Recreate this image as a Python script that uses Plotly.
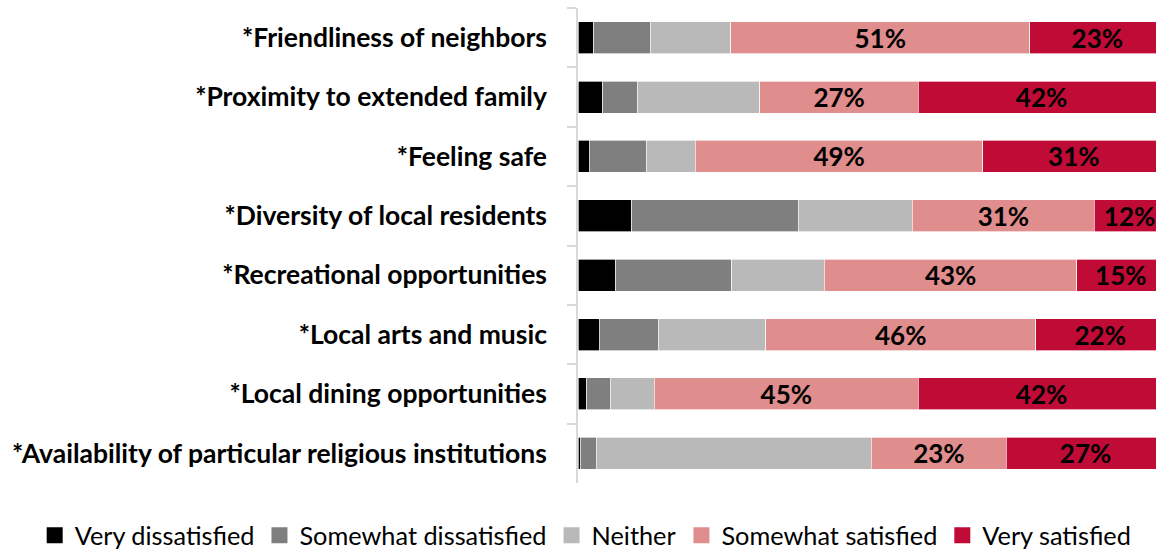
import plotly.graph_objects as go

# Survey items, listed top to bottom
categories = [
    "*Friendliness of neighbors",
    "*Proximity to extended family",
    "*Feeling safe",
    "*Diversity of local residents",
    "*Recreational opportunities",
    "*Local arts and music",
    "*Local dining opportunities",
    "*Availability of particular religious institutions",
]

# Percent of respondents in each satisfaction level
very_dissatisfied = [2.7, 4.2, 1.9, 9.2, 6.4, 3.6, 1.5, 0.4]
somewhat_dissatisfied = [9.6, 5.9, 9.7, 28.3, 19.8, 10.1, 4.0, 2.7]
neither = [13.7, 20.9, 8.4, 19.5, 15.8, 18.3, 7.5, 46.9]
somewhat_satisfied = [51, 27, 49, 31, 43, 46, 45, 23]
very_satisfied = [23, 42, 31, 12, 15, 22, 42, 27]

series = [
    ("Very dissatisfied", very_dissatisfied, "#000000", False),
    ("Somewhat dissatisfied", somewhat_dissatisfied, "#7f7f7f", False),
    ("Neither", neither, "#b8b9b8", False),
    ("Somewhat satisfied", somewhat_satisfied, "#e08d8d", True),
    ("Very satisfied", very_satisfied, "#c00b36", True),
]

FONT = "Lato"
LABEL_SIZE = 26

fig = go.Figure()
for name, values, color, labelled in series:
    fig.add_trace(go.Bar(
        name=name,
        y=categories,
        x=values,
        orientation="h",
        marker=dict(color=color, line=dict(color="rgba(255,255,255,0.8)", width=0.8)),
        text=[f"{v:.0f}%" for v in values] if labelled else None,
        textposition="inside" if labelled else "none",
        insidetextanchor="middle",
        textfont=dict(family=FONT, size=LABEL_SIZE, color="#000000", weight="bold"),
        cliponaxis=True,
        hoverinfo="skip",
        showlegend=False,
    ))

# Legend entries: square swatches slightly larger than the default bar swatch
for name, _, color, _ in series:
    fig.add_trace(go.Scatter(
        name=name,
        x=[None],
        y=[None],
        mode="markers",
        marker=dict(symbol="square", size=16, color=color),
        hoverinfo="skip",
        showlegend=True,
    ))

fig.update_layout(
    barmode="stack",
    bargap=0.46,
    width=1156,
    height=550,
    margin=dict(l=578, r=0, t=8, b=67, autoexpand=False),
    plot_bgcolor="white",
    paper_bgcolor="white",
    font=dict(family=FONT, color="#000000"),
    uniformtext=dict(mode="show", minsize=LABEL_SIZE),
    legend=dict(
        orientation="h",
        x=-0.94, xanchor="left",
        y=-0.11, yanchor="middle",
        font=dict(family=FONT, size=25.3, color="#000000"),
        traceorder="normal",
        itemsizing="trace",
        itemwidth=30,
    ),
    showlegend=True,
)

fig.update_xaxes(
    range=[0, 98.5],
    visible=False,
    fixedrange=True,
)
fig.update_yaxes(
    type="category",
    categoryorder="array",
    categoryarray=categories,
    autorange="reversed",
    showline=True,
    linecolor="#d9d9d9",
    linewidth=1.5,
    ticks="outside",
    tickson="boundaries",
    ticklen=9,
    tickcolor="#d9d9d9",
    tickwidth=1.5,
    showgrid=False,
    tickfont=dict(family=FONT, size=26.5, color="#000000", weight="bold"),
    ticklabelstandoff=24,
)

fig.write_html("out.html")
